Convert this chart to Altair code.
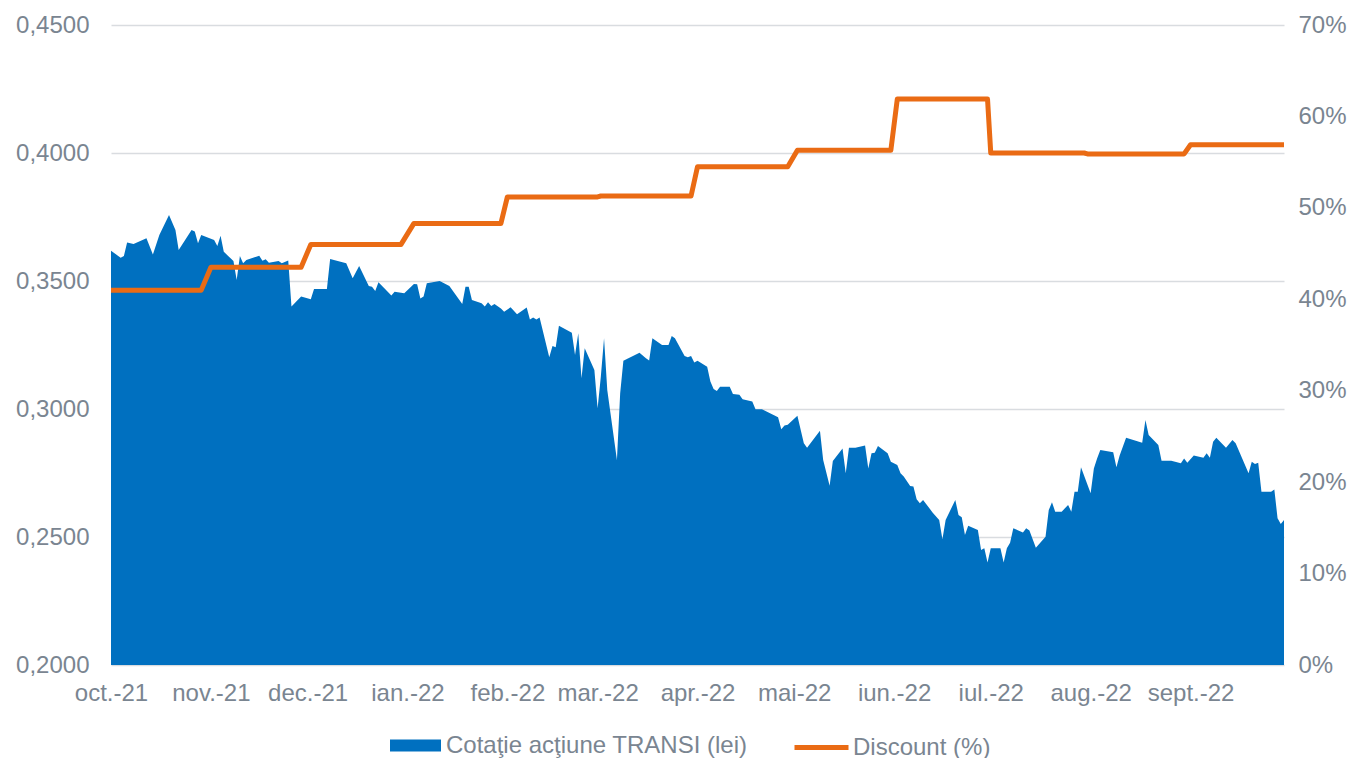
import altair as alt
import pandas as pd

# ---- data: share price (lei), day offset from 2021-10-01 ----
price_days = [0, 3, 4, 5, 7, 11, 13, 15, 18, 20, 21, 25, 26, 27, 28, 32, 33, 34, 35, 38,
              39, 40, 41, 42, 46, 47, 48, 49, 52, 53, 55, 56, 59, 62, 63, 67, 68, 73, 75, 77,
              80, 81, 82, 83, 87, 88, 90, 91, 94, 95, 96, 97, 98, 102, 105, 109, 110, 111, 112, 115,
              116, 117, 118, 119, 121, 122, 124, 126, 129, 130, 131, 132, 133, 136, 137, 138, 139, 143, 144, 145,
              146, 147, 150, 151, 152, 153, 154, 157, 158, 159, 164, 166, 167, 168, 171, 173, 174, 175, 178, 179,
              180, 181, 182, 185, 186, 187, 188, 189, 192, 193, 195, 196, 199, 200, 202, 207, 208, 209, 210, 213,
              215, 216, 220, 221, 223, 224, 227, 228, 229, 231, 234, 235, 236, 237, 238, 241, 242, 244, 245, 246,
              248, 249, 250, 251, 252, 255, 257, 258, 259, 262, 263, 264, 265, 266, 269, 270, 271, 272, 273, 276,
              277, 278, 279, 280, 283, 284, 285, 287, 290, 291, 292, 293, 295, 297, 298, 299, 300, 301, 304, 305,
              306, 307, 311, 312, 313, 315, 320, 321, 322, 325, 326, 329, 332, 333, 334, 336, 339, 340, 341, 342,
              343, 346, 348, 349, 353, 354, 355, 356, 357, 360, 361, 362, 363, 364]
price_values = [0.3618, 0.3591, 0.3598, 0.3650, 0.3645, 0.3667, 0.3604, 0.3680, 0.3758, 0.3699, 0.3621, 0.3699, 0.3693, 0.3647, 0.3680, 0.3660, 0.3637, 0.3677, 0.3614, 0.3578,
                0.3504, 0.3598, 0.3569, 0.3582, 0.3599, 0.3579, 0.3585, 0.3571, 0.3578, 0.3569, 0.3580, 0.3400, 0.3439, 0.3429, 0.3469, 0.3469, 0.3586, 0.3569, 0.3511, 0.3559,
                0.3480, 0.3478, 0.3461, 0.3495, 0.3443, 0.3458, 0.3454, 0.3452, 0.3488, 0.3487, 0.3432, 0.3439, 0.3491, 0.3500, 0.3480, 0.3410, 0.3478, 0.3478, 0.3426, 0.3413,
                0.3400, 0.3417, 0.3402, 0.3410, 0.3393, 0.3380, 0.3397, 0.3370, 0.3396, 0.3350, 0.3357, 0.3350, 0.3357, 0.3202, 0.3246, 0.3241, 0.3325, 0.3298, 0.3211, 0.3296,
                0.3120, 0.3237, 0.3152, 0.3003, 0.3126, 0.3276, 0.3074, 0.2801, 0.3061, 0.3188, 0.3220, 0.3198, 0.3189, 0.3276, 0.3250, 0.3250, 0.3285, 0.3276, 0.3207, 0.3202,
                0.3207, 0.3182, 0.3188, 0.3165, 0.3107, 0.3078, 0.3070, 0.3087, 0.3087, 0.3059, 0.3056, 0.3038, 0.3029, 0.2999, 0.2999, 0.2968, 0.2921, 0.2936, 0.2938, 0.2974,
                0.2866, 0.2849, 0.2915, 0.2801, 0.2700, 0.2797, 0.2846, 0.2749, 0.2849, 0.2849, 0.2857, 0.2768, 0.2827, 0.2829, 0.2855, 0.2827, 0.2794, 0.2781, 0.2749, 0.2736,
                0.2699, 0.2697, 0.2647, 0.2632, 0.2645, 0.2595, 0.2566, 0.2491, 0.2566, 0.2645, 0.2586, 0.2577, 0.2508, 0.2544, 0.2527, 0.2449, 0.2456, 0.2400, 0.2456, 0.2456,
                0.2400, 0.2456, 0.2478, 0.2534, 0.2518, 0.2534, 0.2525, 0.2458, 0.2501, 0.2605, 0.2636, 0.2599, 0.2599, 0.2625, 0.2599, 0.2677, 0.2677, 0.2772, 0.2671, 0.2768,
                0.2807, 0.2840, 0.2831, 0.2772, 0.2818, 0.2888, 0.2868, 0.2957, 0.2898, 0.2859, 0.2798, 0.2798, 0.2788, 0.2807, 0.2790, 0.2818, 0.2810, 0.2827, 0.2810, 0.2872,
                0.2888, 0.2849, 0.2879, 0.2866, 0.2749, 0.2794, 0.2785, 0.2790, 0.2677, 0.2677, 0.2686, 0.2573, 0.2551, 0.2566]

# ---- data: discount (fraction), day offset from 2021-10-01 ----
disc_days = [0, 28, 31, 59, 62, 90, 94, 121, 123, 151, 152, 180, 182, 210, 213,
             242, 244, 272, 273, 302, 303, 333, 335, 364]
disc_values = [0.410, 0.410, 0.435, 0.435, 0.460, 0.460, 0.483, 0.483, 0.512, 0.512, 0.513,
               0.513, 0.545, 0.545, 0.563, 0.563, 0.619, 0.619, 0.560, 0.560, 0.559,
               0.559, 0.569, 0.569]

price_label = "Cotaţie acţiune TRANSI (lei)"
disc_label = "Discount (%)"
month_names = ["ian.", "feb.", "mar.", "apr.", "mai", "iun.", "iul.", "aug.", "sept.", "oct.", "nov.", "dec."]

start = pd.Timestamp("2021-10-01")
df_price = pd.DataFrame({
    "date": start + pd.to_timedelta(price_days, unit="D"),
    "value": price_values,
    "series": price_label,
})
df_disc = pd.DataFrame({
    "date": start + pd.to_timedelta(disc_days, unit="D"),
    "value": disc_values,
    "series": disc_label,
})

FONT = "Liberation Sans"
GRAY = "#7A8591"
BLUE = "#0070C0"
ORANGE = "#EA6B14"
FS = 24

tick_dates = [alt.DateTime(year=2021 + (9 + i) // 12, month=(9 + i) % 12 + 1, date=1) for i in range(12)]
month_js = "[" + ",".join("'" + m + "'" for m in month_names) + "]"

x_enc = alt.X(
    "date:T",
    scale=alt.Scale(domain=[alt.DateTime(year=2021, month=10, date=1),
                            alt.DateTime(year=2022, month=9, date=30)]),
    axis=alt.Axis(
        title=None, values=tick_dates, grid=False, ticks=False, domain=False,
        labelExpr=month_js + "[month(datum.value)] + '-' + timeFormat(datum.value, '%y')",
        labelFontSize=FS, labelColor=GRAY, labelFont=FONT, labelPadding=16,
        labelOverlap=False, labelFlush=False,
    ),
)

area = alt.Chart(df_price).mark_area(opacity=1).encode(
    x=x_enc,
    y=alt.Y(
        "value:Q",
        scale=alt.Scale(domain=[0.2, 0.45], zero=False, nice=False),
        axis=alt.Axis(
            title=None, values=[0.2, 0.25, 0.3, 0.35, 0.4, 0.45],
            labelExpr="replace(format(datum.value, '.4f'), '.', ',')",
            labelFontSize=FS, labelColor=GRAY, labelFont=FONT, labelPadding=22,
            ticks=False, domain=False, grid=True, gridColor="#D9DCE0", gridWidth=1.5,
        ),
    ),
    y2=alt.datum(0.2),
    fill=alt.Fill(
        "series:N",
        scale=alt.Scale(domain=[price_label], range=[BLUE]),
        legend=alt.Legend(
            title=None, orient="none", legendX=279, legendY=695, padding=0,
            symbolType="M-1,-0.235H1V0.235H-1Z", symbolSize=2601, symbolOpacity=1,
            symbolStrokeWidth=0, labelLimit=0,
            labelFontSize=FS, labelColor=GRAY, labelFont=FONT, labelOffset=5,
        ),
    ),
)

line = alt.Chart(df_disc).mark_line(strokeWidth=5, strokeJoin="round").encode(
    x=alt.X("date:T"),
    y=alt.Y(
        "value:Q",
        scale=alt.Scale(domain=[0, 0.7], nice=False),
        axis=alt.Axis(
            title=None, orient="right", values=[0, 0.1, 0.2, 0.3, 0.4, 0.5, 0.6, 0.7],
            format=".0%", labelFontSize=FS, labelColor=GRAY, labelFont=FONT,
            labelPadding=14, ticks=False, domain=False, grid=False,
        ),
    ),
    stroke=alt.Stroke(
        "series:N",
        scale=alt.Scale(domain=[disc_label], range=[ORANGE]),
        legend=alt.Legend(
            title=None, orient="none", legendX=681, legendY=693, padding=0,
            symbolType="stroke", symbolSize=2916, symbolStrokeWidth=5, labelLimit=0,
            labelFontSize=FS, labelColor=GRAY, labelFont=FONT, labelOffset=2,
        ),
    ),
)

chart = alt.layer(area, line).resolve_scale(
    y="independent", x="shared"
).properties(
    width=1173,
    height=640,
    autosize=alt.AutoSizeParams(type="none"),
    padding={"left": 103, "top": 17, "right": 66, "bottom": 93},
).configure(
    background="white"
).configure_view(
    strokeWidth=0, stroke=None
)

chart.save("out.html", embed_options={"renderer": "svg", "actions": False})
